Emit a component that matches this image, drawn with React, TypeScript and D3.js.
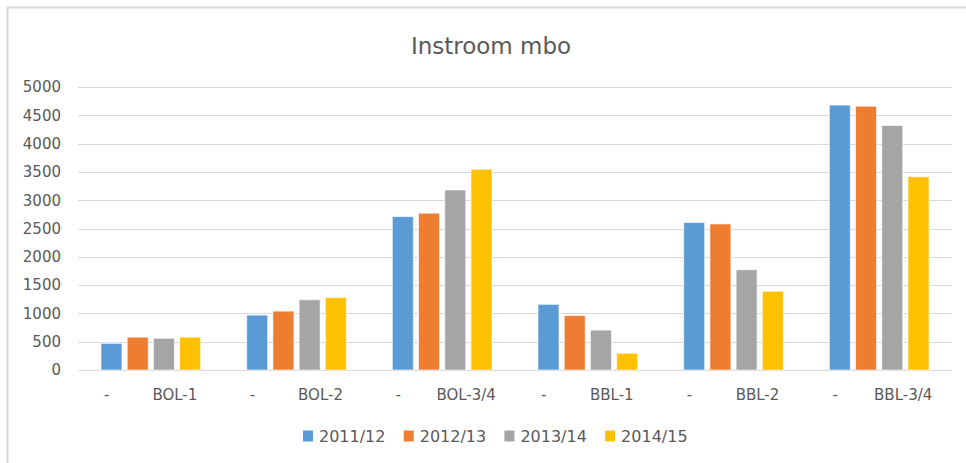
import React, { useRef, useEffect } from "react";
import * as d3 from "d3";

const categories = ["BOL-1", "BOL-2", "BOL-3/4", "BBL-1", "BBL-2", "BBL-3/4"];
const seriesNames = ["2011/12", "2012/13", "2013/14", "2014/15"];
const colors = ["#5b9bd5", "#ed7d31", "#a5a5a5", "#ffc000"];

const v2011 = [470, 970, 2710, 1160, 2605, 4680];
const v2012 = [580, 1040, 2770, 960, 2580, 4660];
const v2013 = [560, 1240, 3180, 705, 1770, 4320];
const v2014 = [580, 1280, 3545, 295, 1390, 3415];

const yTicks = [0, 500, 1000, 1500, 2000, 2500, 3000, 3500, 4000, 4500, 5000];

function App() {
  const ref = useRef<SVGSVGElement | null>(null);

  const w = 966,
    h = 463;
  const plot = { left: 78, right: 952, top: 87, bottom: 370 };

  useEffect(() => {
    document.body.style.margin = "0";
    document.body.style.overflow = "hidden";

    const svg = d3.select(ref.current);
    svg.selectAll("*").remove();

    const font = "'DejaVu Sans', sans-serif";
    const textColor = "#595959";
    const gridColor = "#d9d9d9";

    // outer frame (only left and top edges are visible)
    svg
      .append("path")
      .attr("d", `M7.5,${h} L7.5,7.5 L${w},7.5`)
      .attr("fill", "none")
      .attr("stroke", gridColor)
      .attr("stroke-width", 2);

    svg
      .append("text")
      .attr("x", 491)
      .attr("y", 54)
      .attr("text-anchor", "middle")
      .attr("font-family", font)
      .attr("font-size", 23)
      .attr("fill", textColor)
      .text("Instroom mbo");

    const y = d3.scaleLinear().domain([0, 5000]).range([plot.bottom, plot.top]);

    const x0 = d3
      .scaleBand()
      .domain(categories)
      .range([plot.left, plot.right])
      .paddingInner(0.28)
      .paddingOuter(0.14);

    const x1 = d3
      .scaleBand()
      .domain(seriesNames)
      .range([0, x0.bandwidth()])
      .paddingInner(0.2)
      .paddingOuter(0.1);

    // gridlines
    svg
      .append("g")
      .selectAll("line")
      .data(yTicks)
      .enter()
      .append("line")
      .attr("x1", plot.left)
      .attr("x2", plot.right)
      .attr("y1", d => Math.round(y(d)) + 0.5)
      .attr("y2", d => Math.round(y(d)) + 0.5)
      .attr("stroke", gridColor)
      .attr("stroke-width", 1);

    const yAxis = d3
      .axisLeft(y)
      .tickValues(yTicks)
      .tickFormat(d3.format("d"))
      .tickSize(0)
      .tickPadding(0);

    svg
      .append("g")
      .attr("transform", `translate(61,0)`)
      .call(yAxis)
      .call(g => g.select(".domain").remove())
      .call(g =>
        g
          .selectAll("text")
          .attr("font-family", font)
          .attr("font-size", 15)
          .attr("fill", textColor)
      );

    const allSeries = [v2011, v2012, v2013, v2014];
    const rows = categories.map((c, i) => ({
      cat: c,
      values: seriesNames.map((s, j) => ({ key: s, value: allSeries[j][i], color: colors[j] }))
    }));

    svg
      .append("g")
      .selectAll("g")
      .data(rows)
      .enter()
      .append("g")
      .attr("transform", d => `translate(${x0(d.cat)},0)`)
      .selectAll("rect")
      .data(d => d.values)
      .enter()
      .append("rect")
      .attr("x", d => x1(d.key) as number)
      .attr("y", d => y(d.value))
      .attr("width", x1.bandwidth())
      .attr("height", d => y(0) - y(d.value))
      .attr("fill", d => d.color)
      .attr("stroke", "#ffffff")
      .attr("stroke-opacity", 0.6)
      .attr("stroke-width", 1);

    // category labels: a dash and the name
    const labels = svg.append("g");
    categories.forEach(c => {
      const cx = (x0(c) as number) + x0.bandwidth() / 2;
      labels
        .append("text")
        .attr("x", cx - 44)
        .attr("y", 395)
        .attr("dy", "0.35em")
        .attr("text-anchor", "middle")
        .attr("font-family", font)
        .attr("font-size", 15)
        .attr("fill", textColor)
        .text("-");
      labels
        .append("text")
        .attr("x", cx + 24)
        .attr("y", 395)
        .attr("dy", "0.35em")
        .attr("text-anchor", "middle")
        .attr("font-family", font)
        .attr("font-size", 15)
        .attr("fill", textColor)
        .text(c);
    });

    // legend
    const legend = svg
      .append("g")
      .selectAll("g")
      .data(seriesNames)
      .enter()
      .append("g")
      .attr("transform", (d, i) => `translate(${303 + i * 100.7},436)`);

    legend
      .append("rect")
      .attr("x", 0)
      .attr("y", -5.5)
      .attr("width", 10)
      .attr("height", 11)
      .attr("fill", (d, i) => colors[i]);

    legend
      .append("text")
      .attr("x", 16)
      .attr("y", 0)
      .attr("dy", "0.35em")
      .attr("font-family", font)
      .attr("font-size", 16)
      .attr("fill", textColor)
      .text(d => d);
  }, []);

  return (
    <div>
      <svg ref={ref} width={w} height={h} style={{ display: "block", background: "#fff" }}></svg>
    </div>
  );
}

export default App;
